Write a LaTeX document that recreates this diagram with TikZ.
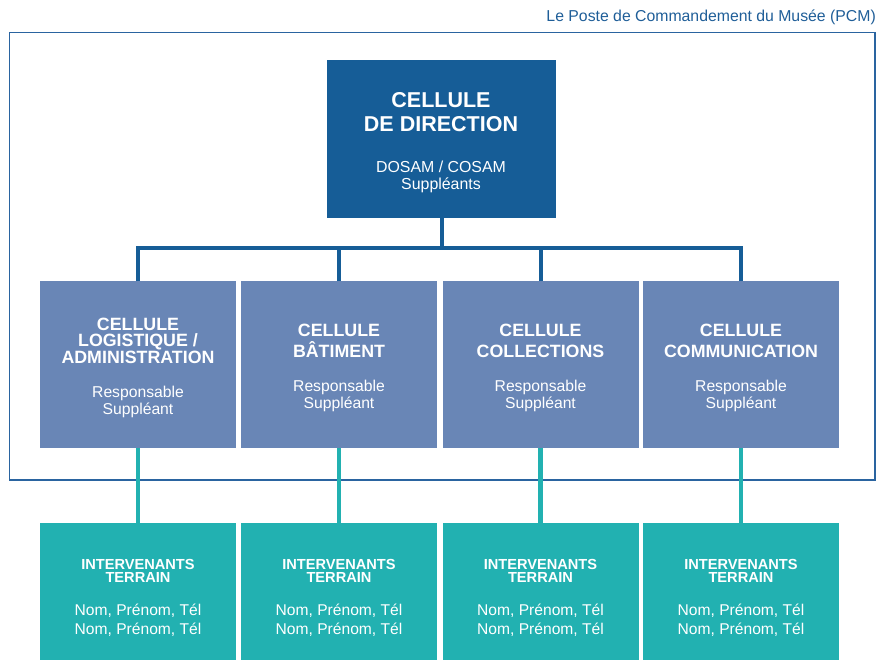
\documentclass[tikz,border=0pt]{standalone}
\usepackage{fontspec}
\setmainfont{Liberation Sans}
\definecolor{dirblue}{HTML}{165D97}
\definecolor{midblue}{HTML}{6986B6}
\definecolor{teal2}{HTML}{22B1B1}
\definecolor{framecol}{HTML}{2A64A0}
\definecolor{titlecol}{HTML}{1F5E98}
\tikzset{
  box/.style={rectangle, inner sep=0pt, outer sep=0pt, draw=none, anchor=north west},
  txt/.style={inner sep=0pt, outer sep=0pt, text=white, align=center},
  bluelink/.style={draw=dirblue, line width=4pt},
  teallink/.style={draw=teal2, line width=4.5pt},
}
\begin{document}
\begin{tikzpicture}[x=1pt,y=-1pt]
\useasboundingbox (0,0) rectangle (878,659);
% frame
\draw[framecol, line width=1.5pt] (9.5,32.5) rectangle (875,480);
\node[anchor=east, inner sep=0pt, text=titlecol, font=\fontsize{15.8}{17}\selectfont] (title) at (876,17) {Le Poste de Commandement du Musée (PCM)};
% direction box
\node[box, fill=dirblue, minimum width=229pt, minimum height=158pt] (dir) at (327,60) {};
\node[txt, font=\fontsize{21.5}{24}\selectfont\bfseries] (dirT) at (441,112) {CELLULE\\DE DIRECTION};
\node[txt, font=\fontsize{15.9}{17}\selectfont] (dirS) at (441,177) {DOSAM / COSAM\\Suppléants};
% middle boxes
\foreach \n/\x in {1/40,2/241,3/442.5,4/643}{
  \node[box, fill=midblue, minimum width=196pt, minimum height=167pt] (m\n) at (\x,281) {};
  \node[box, fill=teal2, minimum width=196pt, minimum height=137pt] (b\n) at (\x,523) {};
}
\node[txt, font=\fontsize{17.8}{16.5}\selectfont\bfseries] (m1T) at (m1.center |- 0,340.5) {CELLULE\\LOGISTIQUE /\\ADMINISTRATION};
\node[txt, font=\fontsize{15.7}{17}\selectfont] (m1S) at (m1.center |- 0,402) {Responsable\\Suppléant};
\node[txt, font=\fontsize{17.8}{21}\selectfont\bfseries] (m2T) at (m2.center |- 0,340.5) {CELLULE\\BÂTIMENT};
\node[txt, font=\fontsize{15.7}{17}\selectfont] (m2S) at (m2.center |- 0,396) {Responsable\\Suppléant};
\node[txt, font=\fontsize{17.8}{21}\selectfont\bfseries] (m3T) at (m3.center |- 0,340.5) {CELLULE\\COLLECTIONS};
\node[txt, font=\fontsize{15.7}{17}\selectfont] (m3S) at (m3.center |- 0,396) {Responsable\\Suppléant};
\node[txt, font=\fontsize{17.8}{21}\selectfont\bfseries] (m4T) at (m4.center |- 0,340.5) {CELLULE\\COMMUNICATION};
\node[txt, font=\fontsize{15.7}{17}\selectfont] (m4S) at (m4.center |- 0,396) {Responsable\\Suppléant};
\foreach \n in {1,2,3,4}{
  \node[txt, font=\fontsize{14.6}{13}\selectfont\bfseries] (b\n T) at (b\n.center |- 0,570.5) {INTERVENANTS\\TERRAIN};
  \node[txt, font=\fontsize{15.6}{19}\selectfont] (b\n S) at (b\n.center |- 0,620) {Nom, Prénom, Tél\\Nom, Prénom, Tél};
}
% connectors
\coordinate (hub) at (dir.south |- 0,248);
\draw[bluelink] (dir.south) -- (hub);
\draw[bluelink] (m1.north) |- (hub) -| (m4.north);
\draw[bluelink] (m2.north) -- (m2.north |- hub);
\draw[bluelink] (m3.north) -- (m3.north |- hub);
\foreach \n in {1,2,3,4}{
  \draw[teallink] (m\n.south) -- (b\n.north);
}
\end{tikzpicture}
\end{document}
